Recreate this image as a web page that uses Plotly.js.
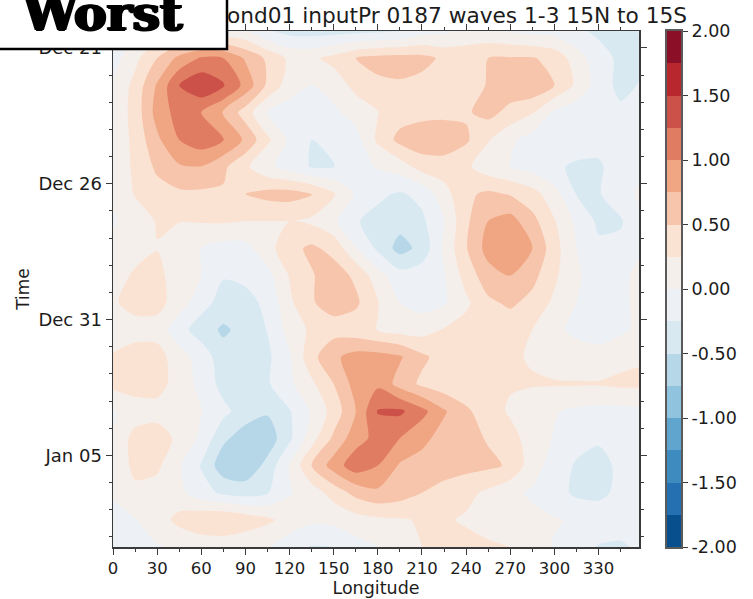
<!DOCTYPE html>
<html><head><meta charset="utf-8">
<script src="https://cdn.plot.ly/plotly-3.0.0.min.js"></script>
<style>html,body{margin:0;padding:0;background:#fff;overflow:hidden}#g{width:753px;height:599px}</style>
</head><body><div id="g"></div>
<script>
const lons=[0,15,30,45,60,75,90,105,120,135,150,165,180,195,210,225,240,255,270,285,300,315,330,345,357.5];
const times=["2012-12-20 09:00","2012-12-21 09:00","2012-12-22 09:00","2012-12-23 09:00","2012-12-24 09:00","2012-12-25 09:00","2012-12-26 09:00","2012-12-27 09:00","2012-12-28 09:00","2012-12-29 09:00","2012-12-30 09:00","2012-12-31 09:00","2013-01-01 09:00","2013-01-02 09:00","2013-01-03 09:00","2013-01-04 09:00","2013-01-05 09:00","2013-01-06 09:00","2013-01-07 09:00","2013-01-08 09:00"];
const r00=[-0.1,-0.03,0.08,0.12,0.1,0.05,0.02,-0.22,-0.34,-0.36,-0.35,-0.32,-0.3,-0.26,-0.1,-0.05,0.03,0.05,-0.02,-0.08,-0.1,-0.2,-0.3,-0.35,-0.24];
const r01=[-0.1,0.18,0.5,0.82,1.03,1.0,0.72,0.45,0.2,0.2,0.33,0.5,0.58,0.6,0.58,0.45,0.45,0.5,0.52,0.52,0.42,0.12,-0.15,-0.3,-0.3];
const r02=[0.02,0.33,0.78,1.25,1.45,1.28,0.92,0.45,0.12,0.0,0.1,0.33,0.45,0.47,0.42,0.37,0.37,0.52,0.65,0.7,0.5,0.2,-0.12,-0.32,-0.24];
const r03=[0.05,0.35,0.85,1.1,1.0,0.74,0.38,0.0,-0.12,-0.15,-0.05,0.1,0.24,0.38,0.42,0.44,0.47,0.58,0.42,0.27,-0.05,-0.15,-0.25,-0.2,-0.1];
const r04=[0.06,0.32,0.7,1.0,1.15,1.02,0.7,0.3,-0.05,-0.25,-0.2,-0.1,0.3,0.58,0.66,0.66,0.54,0.27,0.05,-0.1,-0.15,-0.18,-0.18,-0.12,-0.08];
const r05=[0.06,0.3,0.55,0.72,0.74,0.55,0.3,0.05,-0.1,-0.27,-0.26,-0.1,0.02,0.12,0.36,0.38,0.3,0.1,0.0,-0.1,-0.23,-0.27,-0.28,-0.15,-0.05];
const r06=[0.03,0.27,0.4,0.45,0.45,0.47,0.5,0.58,0.6,0.52,0.28,-0.03,-0.2,-0.28,-0.18,0.15,0.45,0.55,0.48,0.35,0.1,-0.26,-0.27,-0.1,0.03];
const r07=[-0.02,0.1,0.27,0.26,0.27,0.28,0.25,0.25,0.25,0.2,0.05,-0.23,-0.33,-0.4,-0.3,0.0,0.45,0.75,0.85,0.58,0.27,-0.05,-0.3,-0.28,-0.05];
const r08=[0.05,0.12,0.24,0.05,0.0,-0.1,-0.08,0.15,0.42,0.55,0.42,0.02,-0.3,-0.6,-0.42,0.05,0.48,0.85,0.97,0.75,0.35,0.0,-0.2,-0.18,-0.03];
const r09=[0.1,0.3,0.33,0.1,0.0,-0.23,-0.2,-0.08,0.27,0.48,0.62,0.45,0.1,-0.15,-0.1,-0.02,0.35,0.65,0.76,0.58,0.3,0.03,-0.1,-0.05,0.05];
const r10=[0.22,0.34,0.34,0.12,-0.15,-0.35,-0.32,-0.2,0.2,0.48,0.6,0.55,0.26,0.0,-0.1,-0.03,0.2,0.45,0.55,0.42,0.2,0.0,-0.1,-0.05,0.05];
const r11=[0.15,0.15,0.14,-0.15,-0.38,-0.54,-0.42,-0.24,0.1,0.3,0.4,0.35,0.24,0.15,0.15,0.27,0.35,0.38,0.33,0.25,0.05,-0.05,-0.12,-0.05,0.05];
const r12=[0.27,0.36,0.36,0.1,-0.1,-0.4,-0.4,-0.3,-0.03,0.42,0.7,0.85,0.85,0.78,0.55,0.4,0.35,0.32,0.28,0.23,0.15,0.1,0.1,0.18,0.22];
const r13=[0.32,0.38,0.38,0.1,-0.05,-0.35,-0.4,-0.28,-0.05,0.2,0.5,0.85,0.95,0.65,0.45,0.35,0.3,0.28,0.27,0.27,0.27,0.27,0.27,0.3,0.3];
const r14=[-0.02,0.1,0.12,0.03,0.01,-0.18,-0.38,-0.47,-0.27,0.03,0.35,0.75,1.27,1.3,1.08,0.78,0.55,0.35,0.22,0.1,0.02,-0.05,-0.08,-0.08,-0.06];
const r15=[0.01,0.35,0.42,0.17,-0.05,-0.45,-0.62,-0.65,-0.3,0.15,0.55,0.9,1.08,1.0,0.82,0.65,0.58,0.48,0.33,0.15,-0.02,-0.15,-0.22,-0.2,-0.1];
const r16=[0.02,0.33,0.3,0.03,-0.27,-0.65,-0.7,-0.42,0.02,0.5,0.87,1.15,1.0,0.72,0.65,0.6,0.58,0.55,0.47,0.1,-0.1,-0.28,-0.33,-0.2,-0.1];
const r17=[0.03,0.18,0.15,0.07,-0.15,-0.3,-0.35,-0.27,-0.02,0.12,0.35,0.58,0.7,0.62,0.5,0.42,0.32,0.2,0.05,-0.03,-0.15,-0.3,-0.32,-0.18,-0.1];
const r18=[-0.08,-0.01,0.12,0.33,0.45,0.5,0.4,0.3,0.15,0.05,0.07,0.15,0.2,0.23,0.27,0.28,0.22,0.12,0.1,0.05,0.02,-0.03,-0.08,-0.08,-0.05];
const r19=[-0.12,-0.08,-0.02,0.03,0.08,0.08,0.05,0.01,-0.15,-0.27,-0.25,-0.1,-0.01,0.1,0.25,0.32,0.33,0.3,0.25,0.1,-0.02,-0.15,-0.27,-0.3,-0.2];
const z=[r00,r01,r02,r03,r04,r05,r06,r07,r08,r09,r10,r11,r12,r13,r14,r15,r16,r17,r18,r19];
const bandMids=[-1.875,-1.625,-1.375,-1.125,-0.875,-0.625,-0.375,-0.125,0.125,0.375,0.625,0.875,1.125,1.375,1.625,1.875];
const bandColors=["#084f8d","#2470b0","#3d8bbf","#5fa5cd","#90c3dd","#b6d7e8","#d9e9f2","#edf1f5","#f5efec","#fbe3d4","#f7c5ab","#f0a583","#e07c62","#cc5148","#b8272e","#8a0f27"];
const cbTicks=[-2,-1.5,-1,-0.5,0,0.5,1,1.5,2];
const cbLabels=["-2.00","-1.50","-1.00","-0.50","0.00","0.50","1.00","1.50","2.00"];
const lonTicks=[0,30,60,90,120,150,180,210,240,270,300,330];
const FONT="DejaVu Sans, sans-serif", TXT="#1c1c1c", AX="#3a3a3a";
const scale=[[0,bandColors[0]]];
bandColors.forEach((c,i)=>scale.push([(i+1)/17,c]));
scale.push([1,bandColors[15]]);
const stepScale=[];
bandColors.forEach((c,i)=>{stepScale.push([i/16,c]);stepScale.push([(i+1)/16,c]);});
const L=113,R=639,T=31,B=547,RM=14,W=753-L-RM;
const px=v=>(v-L)/W, py=v=>1-(v-T)/(B-T);
Plotly.newPlot('g',[{
 type:'contour',x:lons,y:times,z:z,colorscale:scale,showscale:false,
 autocontour:false,contours:{start:-2,end:2,size:0.25,coloring:'fill',showlines:false},
 line:{width:0,smoothing:0.75},hoverinfo:'skip'
},{
 type:'heatmap',xaxis:'x2',yaxis:'y2',x:[0],y:bandMids,z:bandMids.map(v=>[v]),colorscale:stepScale,zmin:-2,zmax:2,showscale:false,hoverinfo:'skip'
}],{
 width:753,height:599,paper_bgcolor:'#fff',plot_bgcolor:'#fff',showlegend:false,
 margin:{l:L,r:RM,t:T,b:599-B,pad:0},
 font:{family:FONT,color:TXT,size:16.5},
 xaxis:{domain:[0,(R-L)/W],range:[0,357.5],tickmode:'array',tickvals:lonTicks,ticks:'outside',ticklen:6,tickwidth:1,tickcolor:AX,
   minor:{dtick:15,tick0:0,ticks:'outside',ticklen:3,tickwidth:1,tickcolor:AX,showgrid:false},
   showline:true,linecolor:AX,linewidth:1.5,mirror:'allticks',showgrid:false,zeroline:false,
   tickfont:{family:FONT,size:16.5,color:TXT},title:{text:'Longitude',standoff:1,font:{family:FONT,size:17.5,color:TXT}}},
 yaxis:{type:'date',range:["2013-01-08 09:00","2012-12-20 09:00"],tick0:"2012-12-21",dtick:432000000,tickformat:'%b %d',
   ticks:'outside',ticklen:6,tickwidth:1,tickcolor:AX,
   minor:{dtick:86400000,tick0:"2012-12-21",ticks:'outside',ticklen:3,tickwidth:1,tickcolor:AX,showgrid:false},
   showline:true,linecolor:AX,linewidth:1.5,mirror:'allticks',showgrid:false,zeroline:false,
   tickfont:{family:FONT,size:18,color:TXT},title:{text:'Time',standoff:4,font:{family:FONT,size:17,color:TXT}}},
 xaxis2:{domain:[px(667),px(681)],anchor:'y2',range:[-0.5,0.5],showticklabels:false,ticks:'',showgrid:false,zeroline:false,showline:true,linecolor:'#5a5a5a',linewidth:2,mirror:true},
 yaxis2:{domain:[0,1],anchor:'x2',side:'right',range:[-2,2],tickmode:'array',tickvals:cbTicks,ticktext:cbLabels,ticks:'outside',ticklen:5,tickwidth:1,tickcolor:AX,showgrid:false,zeroline:false,showline:true,linecolor:'#5a5a5a',linewidth:2,mirror:true,
   tickfont:{family:FONT,size:17.5,color:TXT}},
 shapes:[{type:'rect',xref:'paper',yref:'paper',layer:'above',x0:px(-8),x1:px(227),y0:py(49),y1:py(-8),fillcolor:'#fff',line:{color:'#000',width:2.5}}],
 annotations:[
  {xref:'paper',yref:'paper',x:px(689),y:py(30),xanchor:'right',yanchor:'bottom',showarrow:false,text:'ond01 inputPr 0187 waves 1-3 15N to 15S',font:{family:FONT,size:21.7,color:TXT},captureevents:false},
  {xref:'paper',yref:'paper',x:px(102),y:py(44),xanchor:'center',yanchor:'bottom',showarrow:false,text:'<b>Worst</b>',font:{family:'DejaVu Serif, serif',size:49,color:'#000',shadow:'1.5px 0 0 #000,-1.5px 0 0 #000,0 1px 0 #000'}}
 ]
},{displayModeBar:false,staticPlot:true});
</script></body></html>
